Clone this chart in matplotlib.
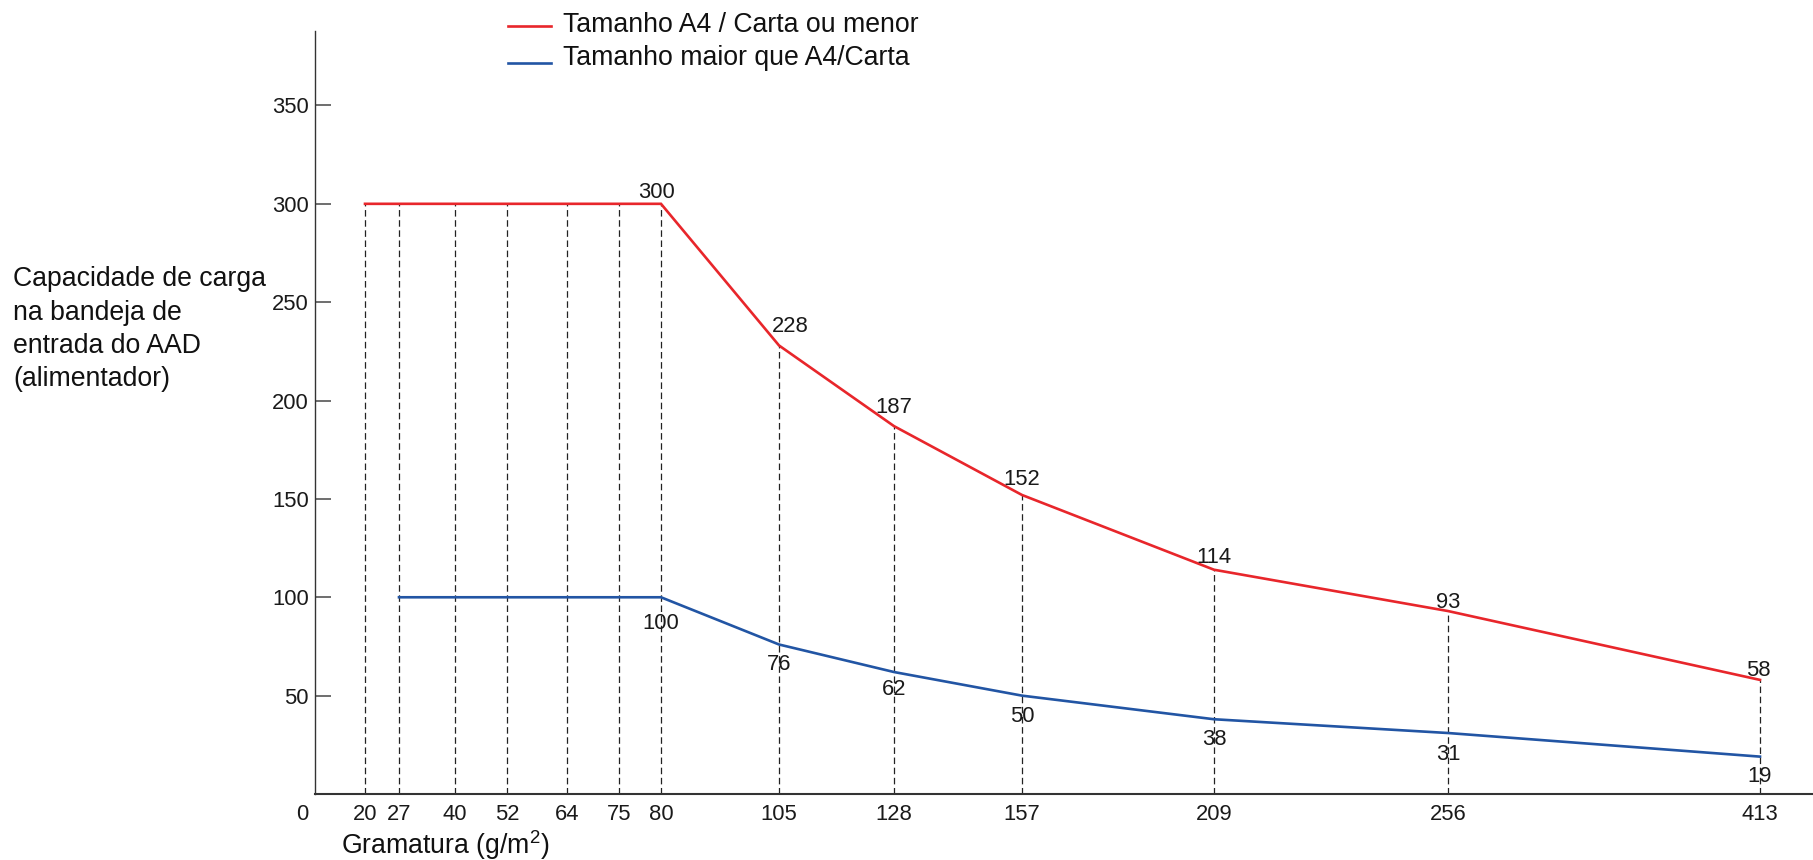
import numpy as np
import matplotlib
matplotlib.use("Agg")
import matplotlib.pyplot as plt
from matplotlib.lines import Line2D

# ---------------- data ----------------
gramatura = [20, 27, 40, 52, 64, 75, 80, 105, 128, 157, 209, 256, 413]
cap_a4 = [300, 300, 300, 300, 300, 300, 300, 228, 187, 152, 114, 93, 58]
gram_large = [27, 40, 52, 64, 75, 80, 105, 128, 157, 209, 256, 413]
cap_large = [100, 100, 100, 100, 100, 100, 76, 62, 50, 38, 31, 19]
y_ticks = [50, 100, 150, 200, 250, 300, 350]
legend_labels = ["Tamanho A4 / Carta ou menor", "Tamanho maior que A4/Carta"]
ylabel_lines = ["Capacidade de carga", "na bandeja de", "entrada do AAD", "(alimentador)"]
xlabel = r"Gramatura (g/m$^{2}$)"

# ---------------- layout / style ----------------
W, H = 1813, 860
RED = "#E8262B"
BLUE = "#2255A4"
FONT = "Liberation Sans"
NUM_FS = 15.8
BIG_FS = 19.2

# non-uniform horizontal scale of the original drawing (gramatura -> layout units)
scale_g = [0, 20, 27, 40, 52, 64, 75, 80, 105, 128, 157, 209, 256, 413, 440]
scale_p = [315, 365, 399, 455, 507, 567, 619, 661, 779, 894, 1022, 1214, 1448, 1760, 1813]

def fwd(g):
    return np.interp(g, scale_g, scale_p)

def inv(p):
    return np.interp(p, scale_p, scale_g)

# label offsets (points)
red_off = {80: (-3, 4), 105: (8.5, 10), 128: (0, 9.5), 157: (0, 7),
           209: (0, 4.5), 256: (0, 2.5), 413: (-1.5, 2.5)}
blue_off = {80: (0, -11.5), 105: (0, -6.8), 128: (0, -4.8), 157: (0, -7.2),
            209: (0, -7), 256: (0, -8.2), 413: (0, -6.8)}

plt.rcParams["font.family"] = [FONT, "DejaVu Sans"]
plt.rcParams["mathtext.default"] = "regular"
plt.rcParams["lines.scale_dashes"] = False

fig = plt.figure(figsize=(W / 100, H / 100), dpi=100)
ax = fig.add_axes([315 / W, (H - 794) / H, 1 - 315 / W, (794 - 30.7) / H])
ax.set_xscale("function", functions=(fwd, inv))
ax.set_xlim(0, 440)
ax.set_ylim(0, 388)

# dashed guide lines
ax.vlines(gramatura, 0, cap_a4, colors="#222222", linestyles=(0, (4.7, 2.6)),
          linewidth=0.9, zorder=1)

ax.plot(gramatura, cap_a4, color=RED, linewidth=1.9, zorder=3, solid_joinstyle="miter")
ax.plot(gram_large, cap_large, color=BLUE, linewidth=1.9, zorder=3, solid_joinstyle="miter")

for g, v in zip(gramatura, cap_a4):
    if g < 80:
        continue
    dx, dy = red_off.get(g, (0, 5))
    ax.annotate(str(v), (g, v), xytext=(dx, dy), textcoords="offset points",
                ha="center", va="baseline", fontsize=NUM_FS, color="#1a1a1a")
for g, v in zip(gram_large, cap_large):
    if g < 80:
        continue
    dx, dy = blue_off.get(g, (0, -7))
    ax.annotate(str(v), (g, v), xytext=(dx, dy), textcoords="offset points",
                ha="center", va="top", fontsize=NUM_FS, color="#1a1a1a")

# origin label
ax.annotate("0", (0, 0), xytext=(-9, -7.2), textcoords="offset points",
            ha="center", va="top", fontsize=NUM_FS, color="#1a1a1a", annotation_clip=False)

# axes styling
for s in ("top", "right"):
    ax.spines[s].set_visible(False)
ax.spines["left"].set_color("#333333")
ax.spines["left"].set_linewidth(1.0)
ax.spines["bottom"].set_color("#333333")
ax.spines["bottom"].set_linewidth(1.5)

ax.set_xticks(gramatura)
ax.set_xticklabels([str(g) for g in gramatura])
ax.set_yticks(y_ticks)
ax.set_yticklabels([str(t) for t in y_ticks])
ax.tick_params(axis="x", length=0, pad=7, labelsize=NUM_FS, labelcolor="#1a1a1a")
ax.tick_params(axis="y", direction="in", length=11.5, width=1.2, color="#555555",
               pad=4.3, labelsize=NUM_FS, labelcolor="#1a1a1a")
ax.minorticks_off()

# legend (drawn manually as in the original)
fig.add_artist(Line2D([508 / W, 551 / W], [1 - 26 / H] * 2, color=RED, linewidth=1.9))
fig.add_artist(Line2D([508 / W, 551 / W], [1 - 63.3 / H] * 2, color=BLUE, linewidth=1.9))
fig.text(563 / W, 1 - 32.3 / H, legend_labels[0], fontsize=BIG_FS, va="baseline",
         ha="left", color="#111111")
fig.text(563 / W, 1 - 65 / H, legend_labels[1], fontsize=BIG_FS, va="baseline",
         ha="left", color="#111111")

# y label (4 lines)
for i, line in enumerate(ylabel_lines):
    fig.text(13 / W, 1 - (286 + 33.5 * i) / H, line, fontsize=BIG_FS, va="baseline",
             ha="left", color="#111111")

# x label
fig.text(340.7 / W, 1 - 854.3 / H, xlabel, fontsize=BIG_FS, va="baseline", ha="left",
         color="#111111")

fig.savefig("out.png", dpi=100)
